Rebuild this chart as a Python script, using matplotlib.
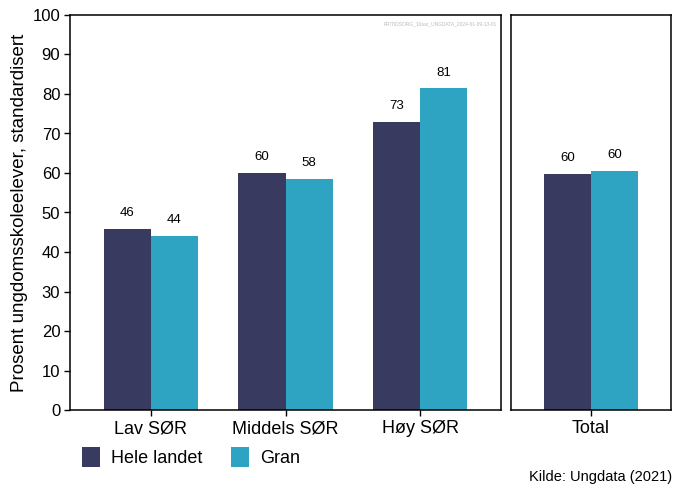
import matplotlib
matplotlib.use("Agg")
import matplotlib.pyplot as plt
from matplotlib.patches import Patch

plt.rcParams['font.family'] = ['Liberation Sans', 'DejaVu Sans']

# data
kategorier = ["Lav SØR", "Middels SØR", "Høy SØR"]
hele_landet = [45.8, 60.0, 73.0]
gran = [44.1, 58.5, 81.4]
total_kat = ["Total"]
total_hele = [59.7]
total_gran = [60.5]
serier = ["Hele landet", "Gran"]
farger = ["#393a5f", "#2ea3c2"]

fig = plt.figure(figsize=(6.86, 4.86), dpi=100)
ax1 = fig.add_axes([70 / 686, 1 - 410 / 486, 431 / 686, 395 / 486])
ax2 = fig.add_axes([511 / 686, 1 - 410 / 486, 160 / 686, 395 / 486])

bw = 0.35


def tegn(ax, kat, a, b):
    x = list(range(len(kat)))
    ax.bar([i - bw / 2 for i in x], a, width=bw, color=farger[0])
    ax.bar([i + bw / 2 for i in x], b, width=bw, color=farger[1])
    for i in x:
        ax.text(i - bw / 2, a[i] + 2.5, f"{a[i]:.0f}", ha='center', va='bottom', fontsize=9.5)
        ax.text(i + bw / 2, b[i] + 2.5, f"{b[i]:.0f}", ha='center', va='bottom', fontsize=9.5)
    ax.set_xticks(x)
    ax.set_xticklabels(kat, fontsize=13)
    ax.set_xlim(-0.6, len(kat) - 0.4)
    ax.set_ylim(0, 100)
    for s in ax.spines.values():
        s.set_linewidth(1.1)
    ax.tick_params(axis='both', direction='out', length=4, width=1)


tegn(ax1, kategorier, hele_landet, gran)
tegn(ax2, total_kat, total_hele, total_gran)

ax1.set_yticks(range(0, 101, 10))
ax1.tick_params(axis='y', labelsize=12, pad=3)
ax1.set_ylabel("Prosent ungdomsskoleelever, standardisert", fontsize=13.5, labelpad=3)
ax2.set_yticks([])

ax1.text(0.99, 0.985, "FRITIDSORG_10aar_UNGDATA_2024-01-09-13-01", transform=ax1.transAxes,
         ha='right', va='top', fontsize=3.5, color='#bbbbbb')

handles = [Patch(facecolor=farger[0]), Patch(facecolor=farger[1])]
fig.legend(handles, serier, loc='center left', bbox_to_anchor=(66 / 686, 1 - 457 / 486),
           ncol=2, frameon=False, fontsize=13, handlelength=1.0, handleheight=1.3,
           columnspacing=1.6, handletextpad=0.6)

fig.text(672 / 686, 1 - 477 / 486, "Kilde: Ungdata (2021)", ha='right', va='center', fontsize=10.5)

fig.savefig("out.png", dpi=100)
